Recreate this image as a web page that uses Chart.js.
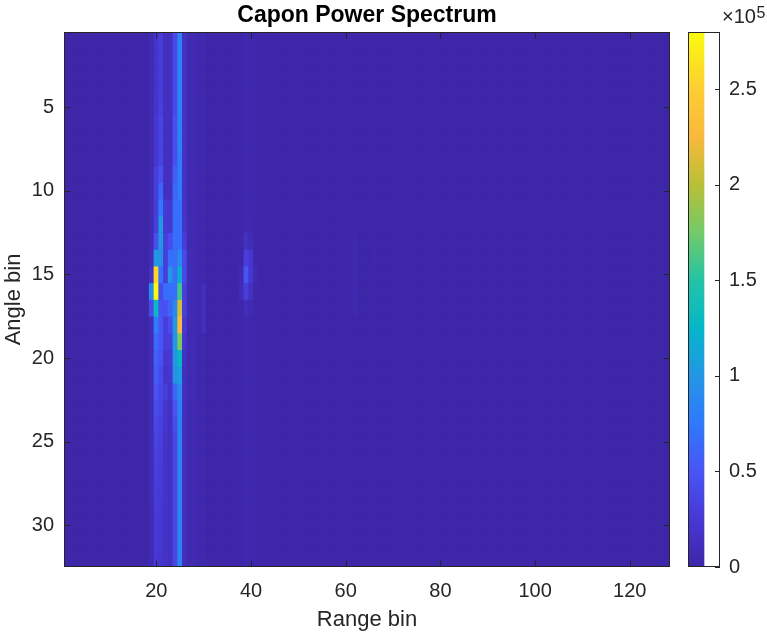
<!DOCTYPE html>
<html>
<head>
<meta charset="utf-8">
<script src="https://cdn.jsdelivr.net/npm/chart.js@4.4.1/dist/chart.umd.min.js"></script>
<style>
  html, body { margin: 0; padding: 0; background: #ffffff; }
  #wrap { position: relative; width: 767px; height: 635px; }
  #wrap canvas { position: absolute; left: 0; top: 0; }
</style>
</head>
<body>
<div id="wrap">
  <canvas id="main" width="767" height="635" style="width:767px;height:635px"></canvas>
  <canvas id="cbar" width="767" height="635" style="width:767px;height:635px"></canvas>
</div>
<script>
// ---------------- DATA (power values in units of 1e5) ----------------
const titleText = 'Capon Power Spectrum';
const xLabel = 'Range bin';
const yLabel = 'Angle bin';
const numRangeBins = 128;
const numAngleBins = 32;
const xTickValues = [20, 40, 60, 80, 100, 120];
const yTickValues = [5, 10, 15, 20, 25, 30];
const cbarTickValues = [0, 0.5, 1, 1.5, 2, 2.5];
const cbarExponent = 5;            // colour bar labelled "x10^5"
const colorLimits = [0, 2.8];      // colour axis limits (x1e5)
const backgroundPower = 0.0;       // every range bin not listed below

// power per angle bin (rows 1..32) for the range bins that stand out
const range19 = [0.05,0.05,0.05,0.05,0.05,0.05,0.05,0.05,0.05,0.05,0.05,0.05,0.06,0.1,0.15,0.9,0.4,0.1,0.08,0.08,0.08,0.08,0.08,0.08,0.08,0.08,0.08,0.08,0.07,0.07,0.06,0.06];
const range20 = [0.2,0.2,0.2,0.2,0.2,0.24,0.24,0.24,0.3,0.3,0.28,0.3,0.45,1.0,2.55,2.8,1.3,0.78,0.65,0.58,0.55,0.48,0.42,0.38,0.34,0.32,0.3,0.28,0.27,0.26,0.25,0.25];
const range21 = [0.28,0.28,0.28,0.28,0.3,0.35,0.35,0.35,0.45,0.62,0.75,1.0,1.0,0.95,0.7,0.42,0.47,0.5,0.5,0.47,0.4,0.38,0.35,0.33,0.3,0.28,0.27,0.26,0.25,0.24,0.23,0.22];
const range22 = [0.14,0.14,0.14,0.14,0.14,0.14,0.14,0.14,0.14,0.14,0.25,0.25,0.3,0.3,0.3,0.68,0.47,0.3,0.3,0.23,0.2,0.3,0.22,0.22,0.18,0.18,0.18,0.18,0.18,0.18,0.18,0.18];
const range23 = [0.14,0.14,0.14,0.14,0.14,0.14,0.14,0.14,0.14,0.14,0.23,0.23,0.42,0.68,1.0,0.68,0.62,0.42,0.3,0.25,0.22,0.2,0.15,0.15,0.15,0.15,0.15,0.15,0.15,0.15,0.15,0.15];
const range24 = [0.4,0.4,0.4,0.4,0.4,0.45,0.45,0.45,0.55,0.62,0.68,0.68,0.68,0.68,0.68,0.68,0.9,1.0,1.0,1.0,0.95,0.62,0.48,0.42,0.38,0.38,0.38,0.38,0.38,0.38,0.38,0.38];
const range25 = [0.85,0.85,0.85,0.85,0.85,0.85,0.85,0.8,0.8,0.8,0.7,0.7,0.7,0.9,1.18,1.6,2.1,2.28,1.78,1.28,1.08,0.9,0.85,0.85,0.85,0.85,0.85,0.85,0.85,0.85,0.85,0.85];
const range26 = [0.17,0.17,0.17,0.17,0.17,0.17,0.17,0.17,0.17,0.17,0.18,0.2,0.28,0.4,0.4,0.3,0.3,0.25,0.2,0.15,0.12,0.12,0.12,0.12,0.12,0.12,0.12,0.12,0.12,0.12,0.12,0.12];
const range27 = [0.05,0.05,0.05,0.05,0.05,0.05,0.05,0.05,0.05,0.05,0.05,0.05,0.05,0.08,0.08,0.08,0.08,0.05,0.05,0.05,0.05,0.05,0.05,0.05,0.05,0.05,0.05,0.05,0.05,0.05,0.05,0.05];
const range28 = [0.05,0.05,0.05,0.05,0.05,0.05,0.05,0.05,0.05,0.05,0.05,0.05,0.05,0.05,0.05,0.05,0.05,0.05,0.08,0.08,0.08,0.08,0.05,0.05,0.05,0.05,0.05,0.05,0.05,0.05,0.05,0.05];
const range29 = [0.03,0.03,0.03,0.03,0.03,0.03,0.03,0.03,0.03,0.03,0.03,0.03,0.03,0.03,0.03,0.03,0.03,0.03,0.03,0.03,0.03,0.03,0.03,0.03,0.03,0.03,0.03,0.03,0.03,0.03,0.03,0.03];
const range30 = [0.03,0.03,0.03,0.03,0.05,0.05,0.05,0.05,0.03,0.03,0.03,0.03,0.03,0.03,0.03,0.12,0.12,0.12,0.03,0.03,0.03,0.03,0.03,0.03,0.03,0.03,0.03,0.03,0.03,0.03,0.03,0.03];
const range38 = [0.02,0.02,0.02,0.02,0.02,0.02,0.02,0.02,0.02,0.02,0.02,0.02,0.02,0.02,0.05,0.1,0.02,0.02,0.02,0.02,0.02,0.02,0.02,0.02,0.02,0.02,0.02,0.02,0.02,0.02,0.02,0.02];
const range39 = [0.04,0.04,0.04,0.04,0.04,0.04,0.04,0.04,0.04,0.04,0.04,0.06,0.15,0.3,0.5,0.3,0.1,0.04,0.04,0.04,0.04,0.04,0.04,0.04,0.04,0.04,0.04,0.04,0.04,0.04,0.04,0.04];
const range40 = [0.03,0.03,0.03,0.03,0.03,0.03,0.03,0.03,0.03,0.03,0.03,0.03,0.08,0.22,0.22,0.15,0.05,0.03,0.03,0.03,0.03,0.03,0.03,0.03,0.03,0.03,0.03,0.03,0.03,0.03,0.03,0.03];
const range41 = [0.01,0.01,0.01,0.01,0.01,0.01,0.01,0.01,0.01,0.01,0.01,0.01,0.01,0.01,0.05,0.01,0.01,0.01,0.01,0.01,0.01,0.01,0.01,0.01,0.01,0.01,0.01,0.01,0.01,0.01,0.01,0.01];
const range62 = [0,0,0,0,0,0,0,0,0,0,0,0,0.04,0.04,0.04,0.05,0.04,0,0,0,0,0,0,0,0,0,0,0,0,0,0,0];
const range66 = [0,0,0,0,0,0,0,0,0,0,0,0,0,0.03,0,0,0,0,0,0,0,0,0,0,0,0,0,0,0,0,0,0];

const hotRangeBins = [19, 20, 21, 22, 23, 24, 25, 26, 27, 28, 29, 30, 38, 39, 40, 41, 62, 66];
const hotProfiles  = [range19, range20, range21, range22, range23, range24, range25, range26, range27, range28, range29, range30, range38, range39, range40, range41, range62, range66];

// ---------------- build the matrix ----------------
const rangeBins = Array.from({length: numRangeBins}, (_, i) => i + 1);
const angleBins = Array.from({length: numAngleBins}, (_, i) => i + 1);
const power = angleBins.map((a, ri) => rangeBins.map(r => {
  const k = hotRangeBins.indexOf(r);
  return k >= 0 ? hotProfiles[k][ri] : backgroundPower;
}));

// ---------------- parula colour map ----------------
const parulaStops = [
  [0.000, [62, 38, 168]],
  [0.089, [71, 56, 212]],
  [0.179, [72, 85, 245]],
  [0.268, [48, 120, 252]],
  [0.357, [35, 150, 228]],
  [0.446, [5, 182, 202]],
  [0.536, [35, 196, 165]],
  [0.625, [115, 202, 105]],
  [0.714, [185, 192, 55]],
  [0.804, [248, 185, 60]],
  [0.893, [254, 205, 50]],
  [1.000, [249, 251, 14]]
];
function parula(v) {
  let t = (v - colorLimits[0]) / (colorLimits[1] - colorLimits[0]);
  t = Math.max(0, Math.min(1, t));
  for (let i = 1; i < parulaStops.length; i++) {
    const [t1, c1] = parulaStops[i];
    const [t0, c0] = parulaStops[i - 1];
    if (t <= t1) {
      const f = (t - t0) / (t1 - t0);
      const c = c0.map((x, j) => Math.round(x + (c1[j] - x) * f));
      return `rgb(${c[0]},${c[1]},${c[2]})`;
    }
  }
  const c = parulaStops[parulaStops.length - 1][1];
  return `rgb(${c[0]},${c[1]},${c[2]})`;
}

// ---------------- common styling ----------------
const FONT = '"Liberation Sans", Arial, Helvetica, sans-serif';
const AX = '#262626';
Chart.defaults.font.family = FONT;
Chart.defaults.color = AX;

// axes frame + inward ticks (MATLAB style)
const matlabAxes = {
  id: 'matlabAxes',
  beforeDatasetsDraw(chart) {
    const {ctx, chartArea: a} = chart;
    ctx.save();
    ctx.fillStyle = parula(colorLimits[0]);
    ctx.fillRect(a.left, a.top, a.right - a.left, a.bottom - a.top);
    ctx.restore();
  },
  afterDatasetsDraw(chart) {
    const {ctx, chartArea: a, scales} = chart;
    const L = 6.5;
    ctx.save();
    ctx.strokeStyle = AX;
    ctx.lineWidth = 1;
    ctx.beginPath();
    scales.x.ticks.forEach(t => {
      const x = Math.round(scales.x.getPixelForValue(t.value)) + 0.5;
      ctx.moveTo(x, a.bottom); ctx.lineTo(x, a.bottom - L);
      ctx.moveTo(x, a.top); ctx.lineTo(x, a.top + L);
    });
    scales.y.ticks.forEach(t => {
      const y = Math.round(scales.y.getPixelForValue(t.value)) + 0.5;
      ctx.moveTo(a.left, y); ctx.lineTo(a.left + L, y);
      ctx.moveTo(a.right, y); ctx.lineTo(a.right - L, y);
    });
    ctx.stroke();
    ctx.strokeRect(Math.round(a.left) + 0.5, Math.round(a.top) + 0.5,
                   Math.round(a.right - a.left) - 1, Math.round(a.bottom - a.top) - 1);
    ctx.restore();
  }
};

// ---------------- main heat map ----------------
const datasets = angleBins.map((a, ri) => ({
  label: 'Angle bin ' + a,
  data: rangeBins.map(r => ({x: r, y: [a - 0.5, a + 0.5]})),
  backgroundColor: rangeBins.map((r, ci) => parula(power[ri][ci])),
  borderWidth: 0,
  barPercentage: 1,
  categoryPercentage: 1,
  grouped: false
}));

new Chart(document.getElementById('main'), {
  type: 'bar',
  data: { datasets },
  options: {
    responsive: false,
    animation: false,
    events: [],
    layout: { padding: { left: 0, right: 97, top: 0, bottom: 0 } },
    plugins: {
      legend: { display: false },
      tooltip: { enabled: false },
      title: {
        display: true, text: titleText, fullSize: false, color: '#000000',
        font: { size: 23, weight: 'bold', family: FONT, lineHeight: 1.2 },
        padding: { top: 1.6, bottom: 2.8 }
      }
    },
    scales: {
      x: {
        type: 'linear', position: 'bottom', offset: false,
        min: 0.5, max: numRangeBins + 0.5,
        grid: { display: false, drawTicks: false },
        border: { display: false },
        afterBuildTicks: s => { s.ticks = xTickValues.map(v => ({value: v})); },
        afterFit: s => { s.height = 68; },
        ticks: { font: { size: 20 }, color: AX, padding: 12, maxRotation: 0, autoSkip: false },
        title: { display: true, text: xLabel, color: AX, font: { size: 22, lineHeight: 1.2 }, padding: { top: 0, bottom: 2.2 } }
      },
      y: {
        type: 'linear', position: 'left', reverse: true,
        min: 0.5, max: numAngleBins + 0.5,
        grid: { display: false, drawTicks: false },
        border: { display: false },
        afterBuildTicks: s => { s.ticks = yTickValues.map(v => ({value: v})); },
        afterFit: s => { s.width = 64; },
        ticks: { font: { size: 20 }, color: AX, padding: 10, autoSkip: false },
        title: { display: true, text: yLabel, color: AX, font: { size: 22, lineHeight: 1.2 }, padding: { top: 1, bottom: 0 } }
      }
    }
  },
  plugins: [matlabAxes]
});

// ---------------- colour bar ----------------
const cbarPlugin = {
  id: 'cbarPlugin',
  afterDatasetsDraw(chart) {
    const {ctx, chartArea: a, scales} = chart;
    ctx.save();
    ctx.strokeStyle = AX;
    ctx.lineWidth = 1;
    ctx.beginPath();
    scales.y.ticks.forEach(t => {
      const y = Math.round(scales.y.getPixelForValue(t.value)) + 0.5;
      ctx.moveTo(a.right, y); ctx.lineTo(a.right - 5, y);
    });
    ctx.stroke();
    ctx.strokeRect(Math.round(a.left) + 0.5, Math.round(a.top) + 0.5,
                   Math.round(a.right - a.left) - 1, Math.round(a.bottom - a.top) - 1);
    // exponent label  x10^5
    ctx.fillStyle = AX;
    ctx.textBaseline = 'alphabetic';
    ctx.textAlign = 'left';
    ctx.font = '20px ' + FONT;
    const base = '\u00d710';
    ctx.fillText(base, 722, 23);
    const w = ctx.measureText(base).width;
    ctx.font = '16px ' + FONT;
    ctx.fillText(String(cbarExponent), 722 + w + 0.5, 18);
    ctx.restore();
  }
};

new Chart(document.getElementById('cbar'), {
  type: 'bar',
  data: {
    labels: [''],
    datasets: [{
      data: [[colorLimits[0], colorLimits[1]]],
      borderWidth: 0,
      barPercentage: 1,
      categoryPercentage: 1,
      backgroundColor: (c) => {
        const chart = c.chart;
        if (!chart.chartArea) return parula(colorLimits[0]);
        const ys = chart.scales.y;
        const g = chart.ctx.createLinearGradient(0, ys.getPixelForValue(colorLimits[0]), 0, ys.getPixelForValue(colorLimits[1]));
        parulaStops.forEach(([t, col]) => g.addColorStop(t, `rgb(${col[0]},${col[1]},${col[2]})`));
        return g;
      }
    }]
  },
  options: {
    responsive: false,
    animation: false,
    events: [],
    layout: { padding: { left: 688, right: 0, top: 32, bottom: 68 } },
    plugins: { legend: { display: false }, tooltip: { enabled: false }, title: { display: false } },
    scales: {
      x: { display: false, offset: false },
      y: {
        type: 'linear', position: 'right',
        min: colorLimits[0], max: colorLimits[1],
        grid: { display: false, drawTicks: false },
        border: { display: false },
        afterBuildTicks: s => { s.ticks = cbarTickValues.map(v => ({value: v})); },
        afterFit: s => { s.width = 47; },
        ticks: { font: { size: 20 }, color: AX, padding: 9, autoSkip: false, callback: v => String(v) }
      }
    }
  },
  plugins: [cbarPlugin]
});
</script>
</body>
</html>
